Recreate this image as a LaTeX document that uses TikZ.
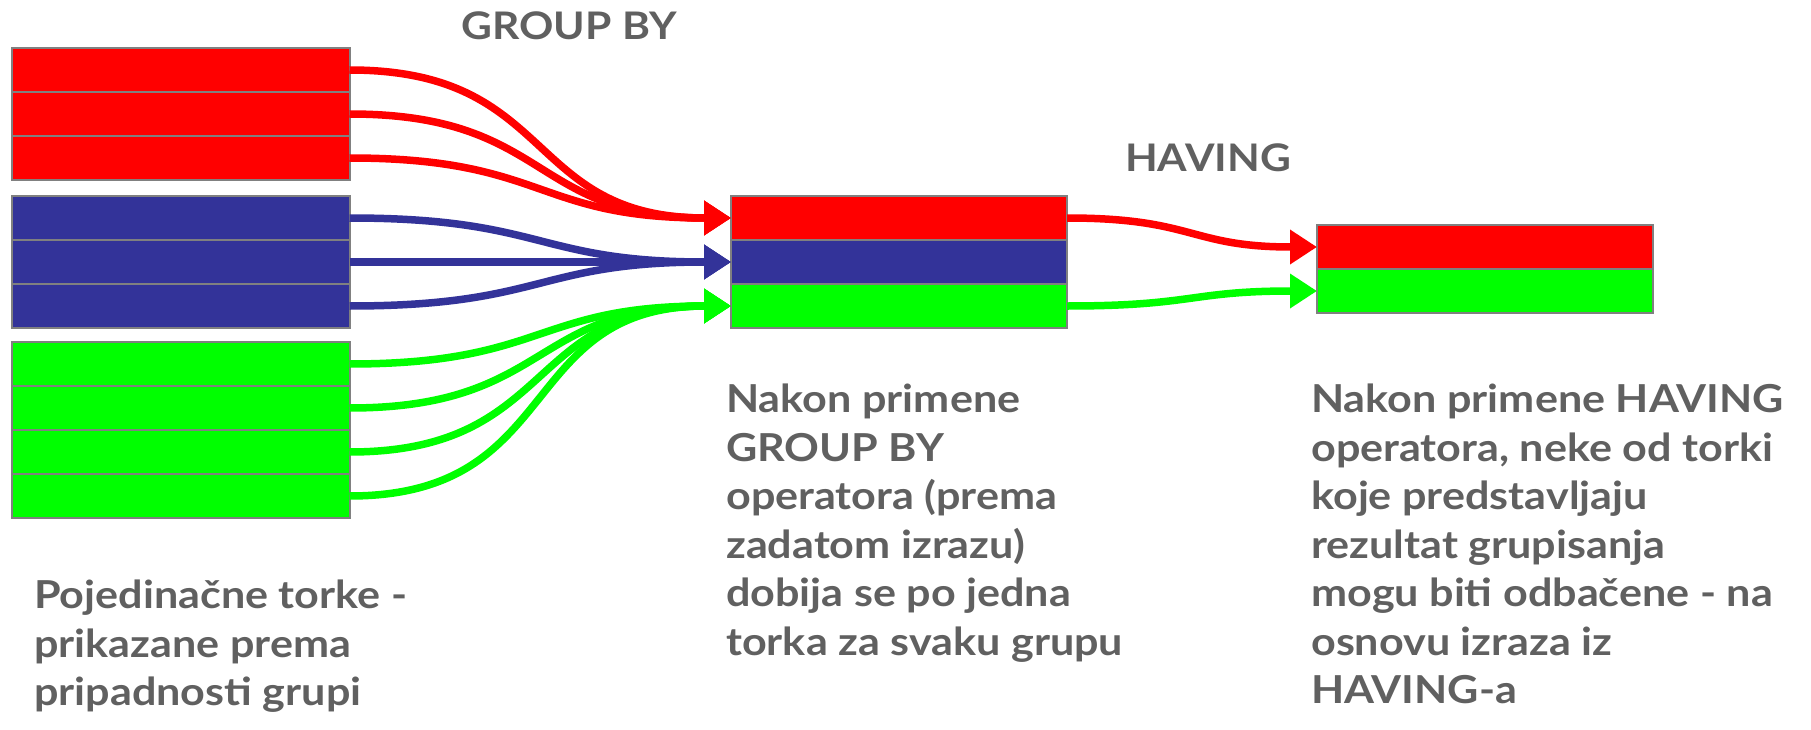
\documentclass[tikz,border=0pt]{standalone}
\usepackage{fontspec}
\setmainfont{Lato}[FakeStretch=1.12]
\usetikzlibrary{arrows.meta}
\definecolor{tred}{RGB}{255,0,0}
\definecolor{tblue}{RGB}{51,51,153}
\definecolor{tgreen}{RGB}{0,255,0}
\definecolor{tgray}{RGB}{128,128,128}
\definecolor{txt}{RGB}{96,96,96}
\begin{document}
\begin{tikzpicture}[x=1pt,y=-1pt,
  rowbox/.style={draw=tgray, line width=2pt, fill=#1, minimum height=44pt, inner sep=0pt, outer sep=0pt, anchor=north west},
  leftrow/.style={rowbox=#1, minimum width=338pt},
  midrow/.style={rowbox=#1, minimum width=336pt},
  conn/.style={draw=#1, line width=7.5pt, looseness=1.3, -{Triangle[length=27pt,width=33pt]}},
  txtstyle/.style={text=txt, font=\fontsize{38.5}{48.5}\selectfont\bfseries, align=left, inner sep=0pt, anchor=north west},
  headstyle/.style={text=txt, font=\fontsize{38}{44}\selectfont\bfseries, inner sep=0pt}
]
\useasboundingbox (0,0) rectangle (1811,730);
% left rows
\node[leftrow=tred] (r1) at (11.5,48) {};
\node[leftrow=tred] (r2) at (11.5,92) {};
\node[leftrow=tred] (r3) at (11.5,136) {};
\node[leftrow=tblue] (b1) at (11.5,196) {};
\node[leftrow=tblue] (b2) at (11.5,240) {};
\node[leftrow=tblue] (b3) at (11.5,284) {};
\node[leftrow=tgreen] (g1) at (11.5,342) {};
\node[leftrow=tgreen] (g2) at (11.5,386) {};
\node[leftrow=tgreen] (g3) at (11.5,430) {};
\node[leftrow=tgreen] (g4) at (11.5,474) {};
% middle
\node[midrow=tred] (mr) at (731,196) {};
\node[midrow=tblue] (mb) at (731,240) {};
\node[midrow=tgreen] (mg) at (731,284) {};
% right
\node[midrow=tred] (hr) at (1317,225) {};
\node[midrow=tgreen] (hg) at (1317,269) {};
% connectors
\draw[conn=tred] (r1.east) to[out=0,in=180] (mr.west);
\draw[conn=tred] (r2.east) to[out=0,in=180] (mr.west);
\draw[conn=tred] (r3.east) to[out=0,in=180] (mr.west);
\draw[conn=tblue] (b1.east) to[out=0,in=180] (mb.west);
\draw[conn=tblue] (b2.east) -- (mb.west);
\draw[conn=tblue] (b3.east) to[out=0,in=180] (mb.west);
\draw[conn=tgreen] (g1.east) to[out=0,in=180] (mg.west);
\draw[conn=tgreen] (g2.east) to[out=0,in=180] (mg.west);
\draw[conn=tgreen] (g3.east) to[out=0,in=180] (mg.west);
\draw[conn=tgreen] (g4.east) to[out=0,in=180] (mg.west);
\draw[conn=tred] (mr.east) to[out=0,in=180] (hr.west);
\draw[conn=tgreen] (mg.east) to[out=0,in=180] (hg.west);
% labels
\node[headstyle] (gb) at (569,25.5) {GROUP BY};
\node[headstyle] (hv) at (1208,158) {HAVING};
\node[txtstyle] (t1) at (34,580) {Pojedinačne torke -\\prikazane prema\\pripadnosti grupi};
\node[txtstyle] (t2) at (726,384) {Nakon primene\\GROUP BY\\operatora (prema\\zadatom izrazu)\\dobija se po jedna\\torka za svaku grupu};
\node[txtstyle] (t3) at (1311,384) {Nakon primene HAVING\\operatora, neke od torki\\koje predstavljaju\\rezultat grupisanja\\mogu biti odbačene - na\\osnovu izraza iz\\HAVING-a};
\end{tikzpicture}
\end{document}
